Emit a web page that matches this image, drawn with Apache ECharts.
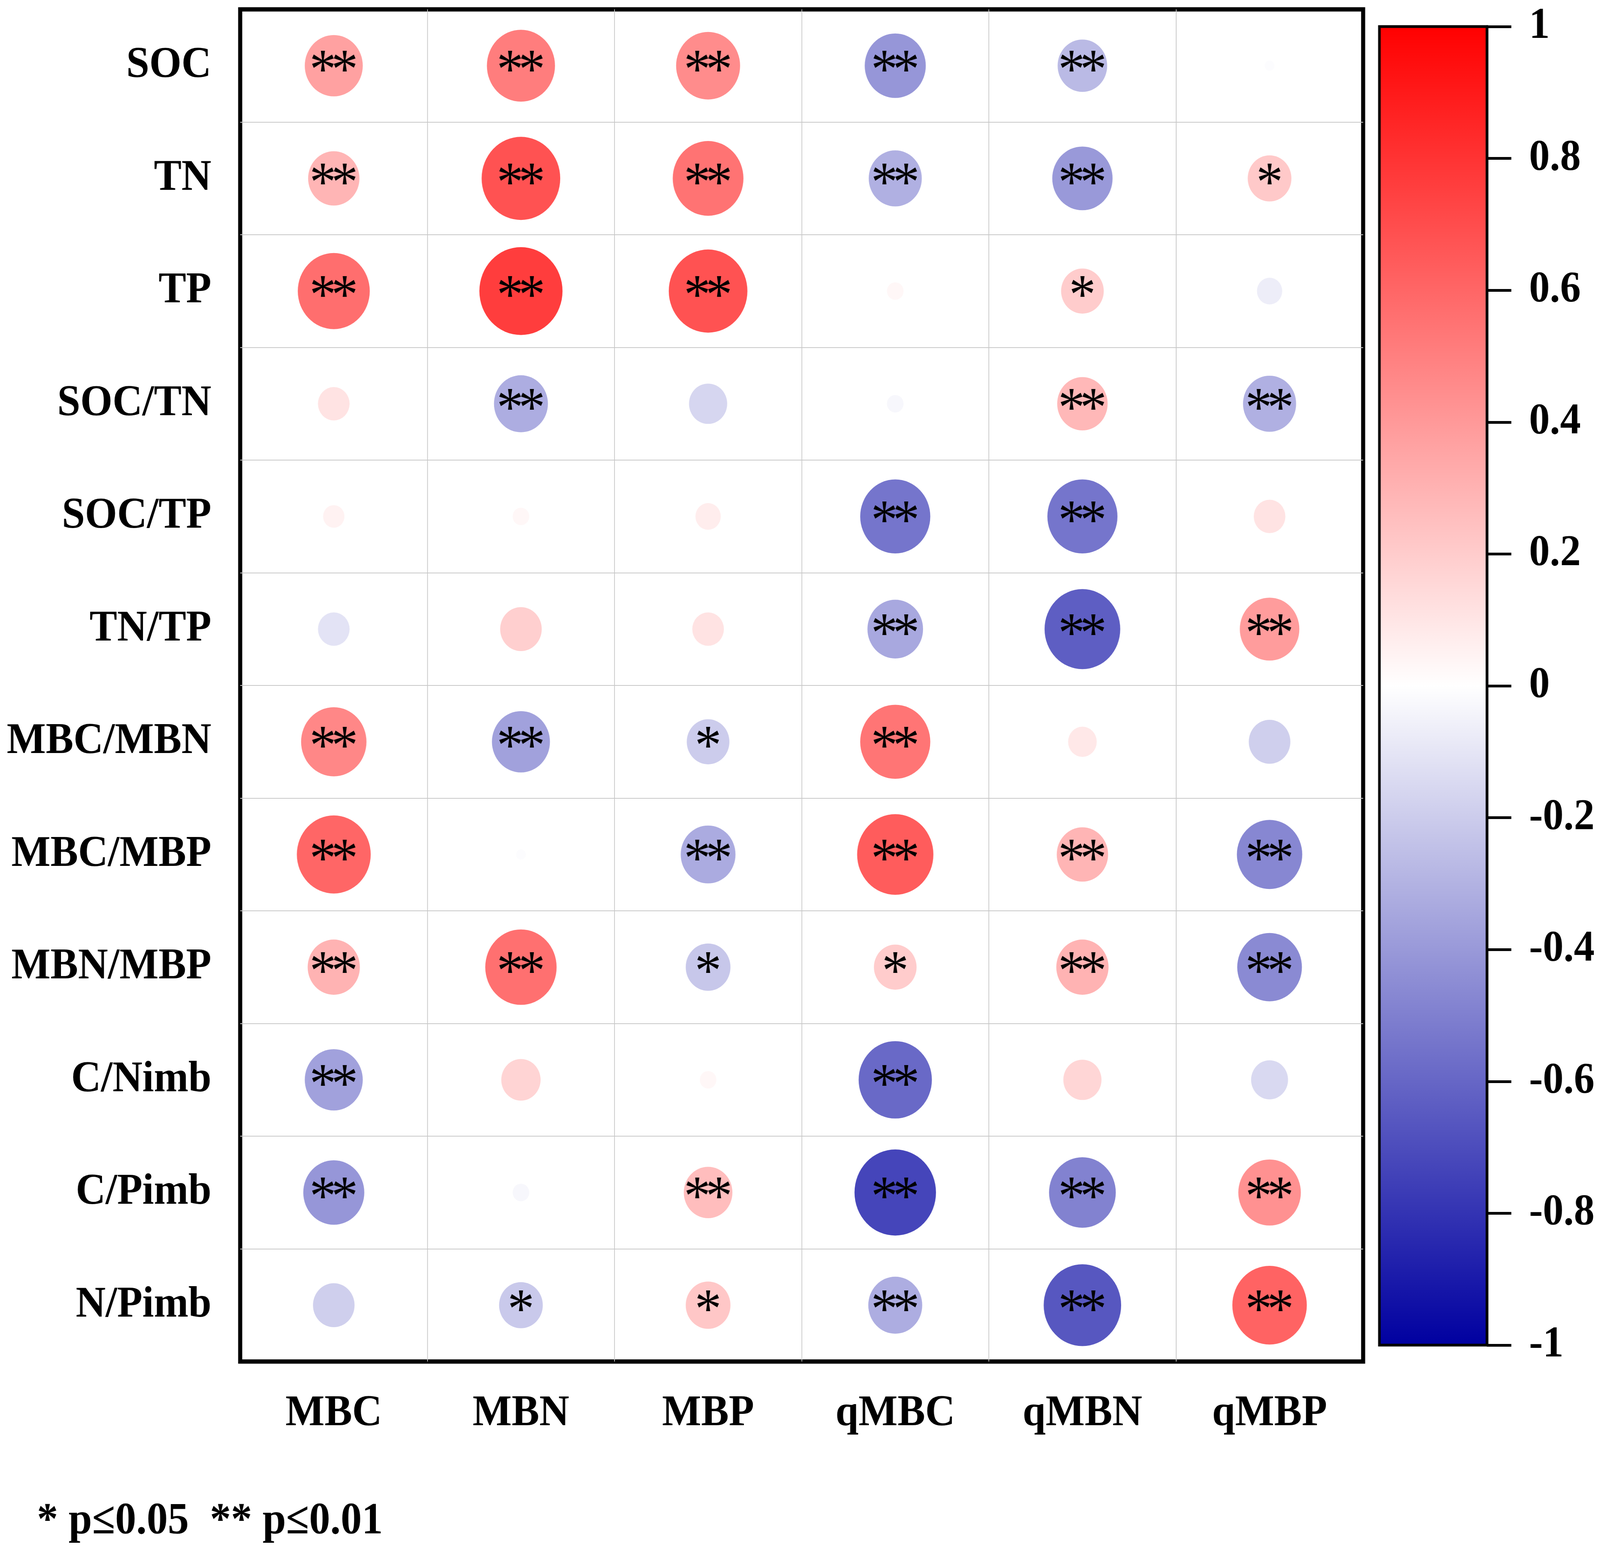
<!DOCTYPE html>
<html>
<head>
<meta charset="utf-8">
<script src="https://cdn.jsdelivr.net/npm/echarts@6/dist/echarts.min.js"></script>
<style>
  html, body { margin: 0; padding: 0; background: #fff; overflow: hidden; }
  #chart { width: 4330px; height: 3966px; transform-origin: 0 0; }
</style>
</head>
<body>
<div id="chart"></div>
<script>
// columns / rows of the correlation matrix
var xCats = ['MBC', 'MBN', 'MBP', 'qMBC', 'qMBN', 'qMBP'];
var yCats = ['SOC', 'TN', 'TP', 'SOC/TN', 'SOC/TP', 'TN/TP', 'MBC/MBN', 'MBC/MBP', 'MBN/MBP', 'C/Nimb', 'C/Pimb', 'N/Pimb'];

// correlation coefficients, one row per yCats entry
var corrRows = [
    [0.37, 0.51, 0.45, -0.41, -0.27, -0.01],
    [0.29, 0.68, 0.55, -0.31, -0.40, 0.21],
    [0.57, 0.76, 0.68, 0.03, 0.20, -0.07],
    [0.11, -0.32, -0.16, -0.03, 0.28, -0.31],
    [0.05, 0.03, 0.07, -0.54, -0.54, 0.11],
    [-0.11, 0.19, 0.11, -0.34, -0.63, 0.39],
    [0.47, -0.37, -0.20, 0.54, 0.09, -0.19],
    [0.60, -0.01, -0.33, 0.64, 0.29, -0.47],
    [0.30, 0.56, -0.22, 0.20, 0.30, -0.46],
    [-0.37, 0.17, 0.03, -0.59, 0.16, -0.15],
    [-0.41, -0.03, 0.26, -0.73, -0.49, 0.43],
    [-0.19, -0.21, 0.22, -0.32, -0.66, 0.61]
];

// significance marks
var starRows = [
    ['**', '**', '**', '**', '**', ''],
    ['**', '**', '**', '**', '**', '*'],
    ['**', '**', '**', '', '*', ''],
    ['', '**', '', '', '**', '**'],
    ['', '', '', '**', '**', ''],
    ['', '', '', '**', '**', '**'],
    ['**', '**', '*', '**', '', ''],
    ['**', '', '**', '**', '**', '**'],
    ['**', '**', '*', '*', '**', '**'],
    ['**', '', '', '**', '', ''],
    ['**', '', '**', '**', '**', '**'],
    ['', '*', '*', '**', '**', '**']
];

var scaleColors = ['#0000a0', '#ffffff', '#ff0000'];
var noteText = '* p\u22640.05  ** p\u22640.01';

var points = [];
corrRows.forEach(function (row, yi) {
    row.forEach(function (r, xi) {
        points.push([xi, yi, r, starRows[yi][xi]]);
    });
});

// the window can be narrower than the 4330px figure: squeeze it to fit
var el = document.getElementById('chart');
var sx = Math.min(1, window.innerWidth / 4330);
if (sx < 1) {
    el.style.transform = 'scaleX(' + sx + ')';
}

var font = 'Liberation Serif';
var chart = echarts.init(el);

var option = {
    backgroundColor: '#fff',
    animation: false,
    title: {
        text: noteText,
        left: 100,
        top: 3840,
        padding: 0,
        textStyle: { fontFamily: font, fontWeight: 'bold', fontSize: 114, color: '#000' }
    },
    visualMap: {
        show: false,
        type: 'continuous',
        seriesIndex: 0,
        dimension: 2,
        min: -1,
        max: 1,
        inRange: { color: scaleColors }
    },
    grid: [
        { left: 650, top: 24, width: 3039, height: 3462, show: true, borderColor: '#000', borderWidth: 11, backgroundColor: 'transparent' },
        { left: 3733, top: 68, width: 291, height: 3376 }
    ],
    xAxis: [
        {
            gridIndex: 0,
            type: 'category',
            data: xCats,
            axisLine: { show: false },
            axisTick: { show: false },
            splitLine: { show: true, showMinLine: false, showMaxLine: false, lineStyle: { color: '#c8c8c8', width: 2 } },
            axisLabel: { margin: 78, fontFamily: font, fontWeight: 'bold', fontSize: 112, color: '#000' }
        },
        { gridIndex: 1, type: 'value', min: 0, max: 1, show: false }
    ],
    yAxis: [
        {
            gridIndex: 0,
            type: 'category',
            data: yCats,
            inverse: true,
            axisLine: { show: false },
            axisTick: { show: false },
            splitLine: { show: true, showMinLine: false, showMaxLine: false, lineStyle: { color: '#c8c8c8', width: 2 } },
            axisLabel: { margin: 78, fontFamily: font, fontWeight: 'bold', fontSize: 112, color: '#000' }
        },
        {
            gridIndex: 1,
            type: 'value',
            position: 'right',
            min: -1,
            max: 1,
            interval: 0.2,
            splitLine: { show: false },
            axisLine: { show: true, onZero: false, lineStyle: { color: '#000', width: 7 } },
            axisTick: { show: true, inside: false, length: 66, lineStyle: { color: '#000', width: 7 } },
            axisLabel: {
                margin: 114,
                fontFamily: font, fontWeight: 'bold', fontSize: 112, color: '#000',
                formatter: function (v) { return String(+v.toFixed(1)); }
            }
        }
    ],
    series: [
        {
            type: 'scatter',
            xAxisIndex: 0,
            yAxisIndex: 0,
            data: points,
            symbol: 'circle',
            symbolSize: function (val) { return 258 * Math.sqrt(Math.abs(val[2])); },
            itemStyle: { opacity: 1 },
            label: {
                show: true,
                position: 'inside',
                offset: [0, 19],
                formatter: function (p) {
                    return p.value[3].split('').map(function () { return '{s|*}'; }).join('');
                },
                rich: {
                    s: { width: 59, align: 'center', fontFamily: font, fontSize: 145, color: '#000' }
                }
            }
        },
        {
            type: 'custom',
            xAxisIndex: 1,
            yAxisIndex: 1,
            z: -1,
            data: [[0, 0]],
            renderItem: function (params, api) {
                var p0 = api.coord([0, 1]);
                var p1 = api.coord([1, -1]);
                return {
                    type: 'rect',
                    shape: { x: p0[0], y: p0[1], width: p1[0] - p0[0], height: p1[1] - p0[1] },
                    style: {
                        fill: new echarts.graphic.LinearGradient(0, 0, 0, 1, [
                            { offset: 0, color: scaleColors[2] },
                            { offset: 0.5, color: scaleColors[1] },
                            { offset: 1, color: scaleColors[0] }
                        ]),
                        stroke: '#000',
                        lineWidth: 7
                    }
                };
            }
        }
    ]
};
chart.setOption(option);
</script>
</body>
</html>
